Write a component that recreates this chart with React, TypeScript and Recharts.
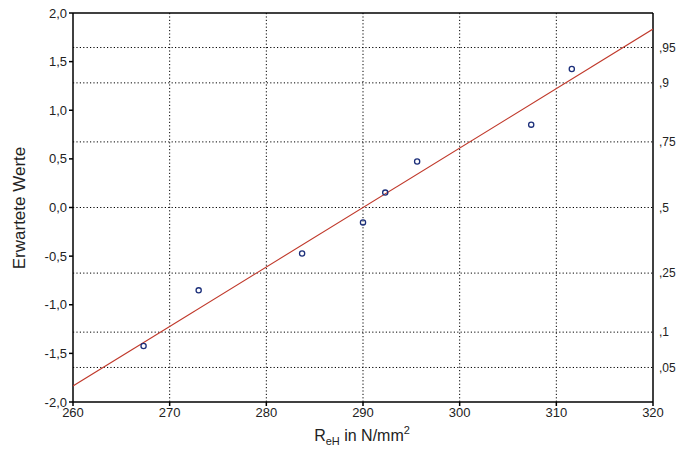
import React from 'react'
import { ScatterChart, Scatter, XAxis, YAxis, CartesianGrid, ReferenceLine } from 'recharts'

// measured values (R_eH) vs expected normal scores
const reH = [267.3, 273.0, 283.7, 290.0, 292.3, 295.6, 307.4, 311.6]
const expected = [-1.424, -0.852, -0.473, -0.153, 0.153, 0.473, 0.852, 1.424]

// fitted line end points
const fitX = [260, 320]
const fitY = [-1.835, 1.835]

const xTicks = [260, 270, 280, 290, 300, 310, 320]
const leftTicks = [-2, -1.5, -1, -0.5, 0, 0.5, 1, 1.5, 2]
const rightTicks = [-1.645, -1.2816, -0.6745, 0, 0.6745, 1.2816, 1.645]
const rightLabels = [',05', ',1', ',25', ',5', ',75', ',9', ',95']

const points = reH.map((x, i) => ({ x, y: expected[i] }))
const fitLine = fitX.map((x, i) => ({ x, y: fitY[i] }))

const font = '"Liberation Sans", Arial, sans-serif'

const Ring = (props: any) => {
  const { cx, cy } = props
  return <circle cx={cx} cy={cy} r={2.6} fill="none" stroke="#1c2f7a" strokeWidth={1.3} />
}

const App: React.FC = () => {
  return (
    <div style={{ position: 'absolute', left: 0, top: 0, width: 677, height: 457, background: '#fff', fontFamily: font }}>
      <ScatterChart width={677} height={457} margin={{ top: 13, right: 0, bottom: 25, left: 28 }}>
        <CartesianGrid
          yAxisId="left"
          stroke="#000"
          strokeDasharray="1.2 2.2"
          verticalValues={[270, 280, 290, 300, 310]}
          horizontalValues={[...leftTicks.slice(1, -1), ...rightTicks]}
        />
        <XAxis
          type="number"
          dataKey="x"
          domain={[260, 320]}
          ticks={xTicks}
          allowDataOverflow
          stroke="#000"
          strokeWidth={1.5}
          tickSize={4}
          height={30}
          tick={{ fill: '#222', fontSize: 13, fontFamily: font }}
          label={(props: any) => (
            <text x={362} y={441} textAnchor="middle" fill="#222" fontSize={16} fontFamily={font}>
              R<tspan fontSize={11} dy={4}>eH</tspan>
              <tspan fontSize={16} dy={-4}> in N/mm</tspan>
              <tspan fontSize={11} dy={-7}>2</tspan>
            </text>
          )}
        />
        <YAxis
          yAxisId="left"
          type="number"
          dataKey="y"
          domain={[-2, 2]}
          ticks={leftTicks}
          allowDataOverflow
          width={45}
          stroke="#000"
          strokeWidth={1.5}
          tickSize={4}
          tickFormatter={(v: number) => v.toFixed(1).replace('.', ',')}
          tick={{ fill: '#222', fontSize: 13, fontFamily: font }}
          label={(props: any) => (
            <text x={19} y={208} dy={6} transform="rotate(-90 19 208)" textAnchor="middle" fill="#222" fontSize={17} fontFamily={font}>
              Erwartete Werte
            </text>
          )}
        />
        <YAxis
          yAxisId="right"
          orientation="right"
          type="number"
          domain={[-2, 2]}
          ticks={rightTicks}
          allowDataOverflow
          width={24}
          stroke="#000"
          strokeWidth={1.5}
          tickLine={false}
          tickSize={0}
          tickMargin={6}
          tickFormatter={(v: number) => rightLabels[rightTicks.indexOf(v)] ?? ''}
          tick={{ fill: '#222', fontSize: 12, fontFamily: font }}
        />
        <ReferenceLine yAxisId="left" y={2} stroke="#000" strokeWidth={1.5} />
        <Scatter
          yAxisId="left"
          data={fitLine}
          line={{ stroke: '#c0392b', strokeWidth: 1.1 }}
          shape={() => null}
          isAnimationActive={false}
        />
        <Scatter yAxisId="left" data={points} shape={Ring} isAnimationActive={false} />
      </ScatterChart>
    </div>
  )
}

export default App
